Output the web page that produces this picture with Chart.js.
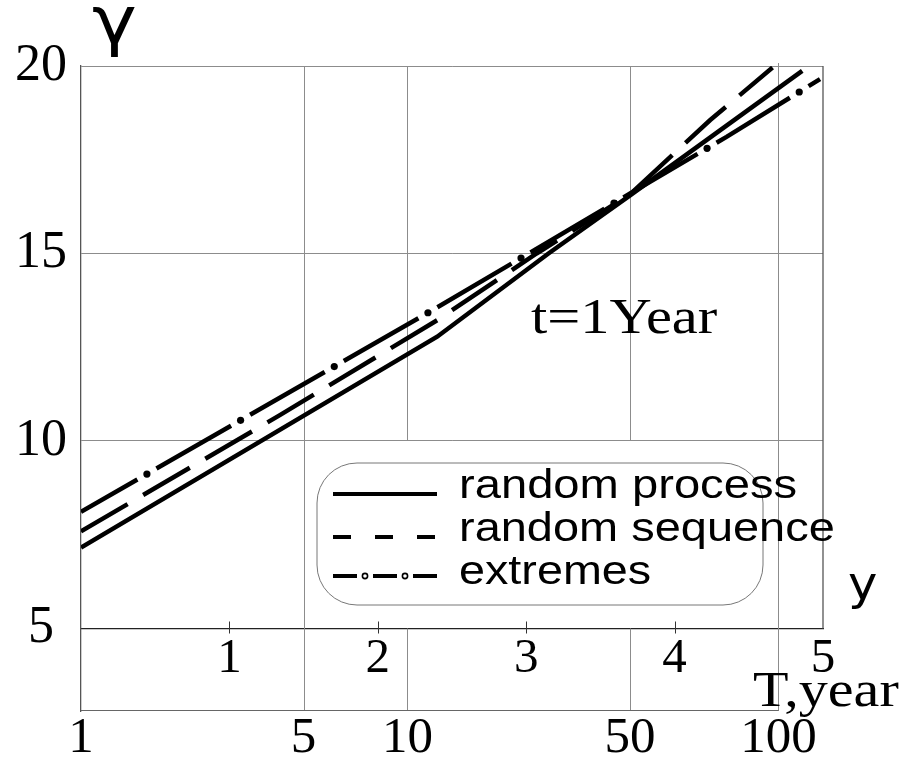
<!DOCTYPE html>
<html><head><meta charset="utf-8">
<script src="https://cdn.jsdelivr.net/npm/chart.js@4/dist/chart.umd.min.js"></script>
<style>html,body{margin:0;padding:0;background:#fff}#wrap{width:903px;height:760px}</style>
</head><body><div id="wrap"><canvas id="c" width="903" height="760"></canvas></div>
<script>
// ---- data ----
const processY = [0, 2.4, 3.15, 3.7, 4.86];
const processGamma = [7.16, 12.78, 15.0, 16.55, 19.87];
const sequenceY = [0, 1.34, 2.4, 3.07, 3.7, 4.24, 4.66];
const sequenceGamma = [7.59, 10.69, 13.22, 15.0, 16.58, 18.56, 19.96];
const extremesY = [0, 2.36, 3.06, 3.7, 4.35, 4.98];
const extremesGamma = [8.11, 13.47, 15.1, 16.6, 18.11, 19.65];
const seriesNames = ['random process', 'random sequence', 'extremes'];
const gammaTicks = [5, 10, 15, 20];
const yTicks = [1, 2, 3, 4, 5];
const returnPeriodLabels = ['1', '5', '10', '50', '100'];
const returnPeriodY = [0, 1.5, 2.2, 3.7, 4.7];

const toPts = (xs, ys) => xs.map((v, i) => ({x: v, y: ys[i]}));
const SERIF = '"Liberation Serif", "Times New Roman", serif';
const SANS = '"Liberation Sans", Arial, sans-serif';

function stretchText(ctx, txt, x, y, font, sx) {
  ctx.save();
  ctx.font = font;
  ctx.fillStyle = '#000';
  ctx.textAlign = 'left';
  ctx.textBaseline = 'alphabetic';
  ctx.translate(x, y);
  ctx.scale(sx, 1);
  ctx.fillText(txt, 0, 0);
  ctx.restore();
}

const EXT_DASH = [86, 22], EXT_OFFSET = 21;

const decor = {
  id: 'decor',
  beforeDatasetsDraw(chart) {
    const ctx = chart.ctx, xs = chart.scales.x, ys = chart.scales.y;
    const top = ys.getPixelForValue(20), bot = ys.bottom;
    const y10 = ys.getPixelForValue(10), y5 = ys.getPixelForValue(5);
    ctx.save();
    ctx.strokeStyle = '#8c8c8c';
    ctx.lineWidth = 1;
    returnPeriodLabels.forEach((lab, i) => {
      if (i === 0) return;
      const px = Math.round(xs.getPixelForValue(returnPeriodY[i])) + 0.5;
      ctx.beginPath();
      if (lab === '10' || lab === '50') {
        ctx.moveTo(px, top); ctx.lineTo(px, y10);
        ctx.moveTo(px, y5); ctx.lineTo(px, bot);
      } else {
        ctx.moveTo(px, top - (lab === '100' ? 3 : 0)); ctx.lineTo(px, bot);
      }
      ctx.stroke();
    });
    // right border of the upper box
    ctx.strokeStyle = '#555';
    ctx.lineWidth = 1.3;
    const xr = xs.getPixelForValue(5);
    ctx.beginPath(); ctx.moveTo(xr, top); ctx.lineTo(xr, y5); ctx.stroke();
    // bottom line of the lower box (up to T = 100)
    ctx.strokeStyle = '#666';
    ctx.lineWidth = 1.2;
    ctx.beginPath();
    ctx.moveTo(xs.getPixelForValue(0), bot - 0.5);
    ctx.lineTo(xs.getPixelForValue(returnPeriodY[returnPeriodY.length - 1]), bot - 0.5);
    ctx.stroke();
    // tick marks of the y-variable axis
    ctx.strokeStyle = '#333';
    ctx.lineWidth = 1;
    yTicks.forEach(v => {
      if (v >= 5) return;
      const px = Math.round(xs.getPixelForValue(v)) + 0.5;
      ctx.beginPath(); ctx.moveTo(px, y5 - 7); ctx.lineTo(px, y5 + 5); ctx.stroke();
    });
    ctx.restore();
  },
  afterDatasetsDraw(chart) {
    const ctx = chart.ctx;
    // dots of the dash-dot "extremes" line, placed in the gaps of its dash pattern
    const pts = chart.getDatasetMeta(2).data.map(p => ({x: p.x, y: p.y}));
    const period = EXT_DASH[0] + EXT_DASH[1];
    let target = EXT_DASH[0] + EXT_DASH[1] / 2 - EXT_OFFSET;
    let s0 = 0;
    ctx.save();
    ctx.fillStyle = '#000';
    for (let i = 0; i < pts.length - 1; i++) {
      const a = pts[i], b = pts[i + 1];
      const L = Math.hypot(b.x - a.x, b.y - a.y);
      while (target <= s0 + L) {
        const t = (target - s0) / L;
        ctx.beginPath();
        ctx.arc(a.x + (b.x - a.x) * t, a.y + (b.y - a.y) * t, 3.6, 0, Math.PI * 2);
        ctx.fill();
        target += period;
      }
      s0 += L;
    }
    ctx.restore();

    // legend box
    ctx.save();
    const lx = 317, ly = 463, lw = 446, lh = 142, r = 40;
    ctx.beginPath();
    ctx.roundRect(lx, ly, lw, lh, r);
    ctx.fillStyle = '#fff';
    ctx.fill();
    ctx.strokeStyle = '#777';
    ctx.lineWidth = 1;
    ctx.stroke();
    ctx.strokeStyle = '#000';
    ctx.lineWidth = 4;
    ctx.lineCap = 'butt';
    const sx0 = 333, sx1 = 437;
    const rows = [494, 537, 576];
    ctx.beginPath(); ctx.moveTo(sx0, rows[0]); ctx.lineTo(sx1, rows[0]); ctx.stroke();
    ctx.setLineDash([18, 24]);
    ctx.beginPath(); ctx.moveTo(sx0, rows[1]); ctx.lineTo(sx1, rows[1]); ctx.stroke();
    ctx.setLineDash([24, 16]);
    ctx.beginPath(); ctx.moveTo(sx0, rows[2]); ctx.lineTo(sx1, rows[2]); ctx.stroke();
    ctx.setLineDash([]);
    ctx.lineWidth = 1.6;
    [sx0 + 32, sx0 + 72].forEach(cx => {
      ctx.beginPath(); ctx.arc(cx, rows[2], 2.6, 0, Math.PI * 2); ctx.stroke();
    });
    ctx.restore();
    const lfont = '41px ' + SANS;
    stretchText(ctx, seriesNames[0], 459, 498, lfont, 1.15);
    stretchText(ctx, seriesNames[1], 459, 541, lfont, 1.145);
    stretchText(ctx, seriesNames[2], 459, 584, lfont, 1.14);

    // annotations and axis names
    stretchText(ctx, 't=1Year', 531, 333, '50px ' + SERIF, 1.17);
    stretchText(ctx, 'T,year', 753, 706, '51px ' + SERIF, 1.14);
    stretchText(ctx, 'γ', 92, 43, '66px "DejaVu Sans", sans-serif', 1.15);
    stretchText(ctx, 'y', 848, 599, '46px "DejaVu Sans", sans-serif', 1.08);
  }
};

const base = {borderColor: '#000', borderWidth: 4.5, pointRadius: 0, fill: false,
  tension: 0, borderCapStyle: 'butt', xAxisID: 'x', yAxisID: 'y'};

new Chart(document.getElementById('c'), {
  type: 'line',
  data: {
    datasets: [
      Object.assign({label: seriesNames[0], data: toPts(processY, processGamma)}, base),
      Object.assign({label: seriesNames[1], data: toPts(sequenceY, sequenceGamma), borderDash: [54, 18]}, base),
      Object.assign({label: seriesNames[2], data: toPts(extremesY, extremesGamma), borderDash: EXT_DASH, borderDashOffset: EXT_OFFSET}, base)
    ]
  },
  options: {
    responsive: false,
    animation: false,
    devicePixelRatio: 1,
    layout: {padding: {left: 0, top: 66, right: 80, bottom: 0}},
    plugins: {legend: {display: false}, tooltip: {enabled: false}},
    scales: {
      x: {
        type: 'linear', min: 0, max: 5, position: 'bottom',
        grid: {display: false, drawTicks: false},
        border: {display: false},
        ticks: {autoSkip: false, maxRotation: 0, minRotation: 0, padding: -3, color: '#000',
          font: {family: SERIF, size: 51},
          callback: (v, i) => returnPeriodLabels[i]},
        afterBuildTicks: s => { s.ticks = returnPeriodY.map(v => ({value: v})); },
        afterFit: s => { s.height = 49; }
      },
      x2: {
        type: 'linear', min: 0, max: 5, position: {y: 5},
        grid: {display: false, drawTicks: false},
        border: {display: true, color: '#222', width: 1.3},
        ticks: {autoSkip: false, maxRotation: 0, minRotation: 0, padding: 1, color: '#000',
          font: {family: SERIF, size: 49},
          callback: v => String(v)},
        afterBuildTicks: s => { s.ticks = yTicks.map(v => ({value: v})); }
      },
      y: {
        type: 'linear', min: 2.8, max: 20, position: 'left',
        grid: {color: '#8c8c8c', lineWidth: 1, drawTicks: false},
        border: {display: true, color: '#555', width: 1.3},
        ticks: {padding: 14, crossAlign: 'center', color: '#000', font: {family: SERIF, size: 52}},
        afterBuildTicks: s => { s.ticks = gammaTicks.map(v => ({value: v})); },
        afterFit: s => { s.width = 81; }
      }
    }
  },
  plugins: [decor]
});
</script>
</body></html>
